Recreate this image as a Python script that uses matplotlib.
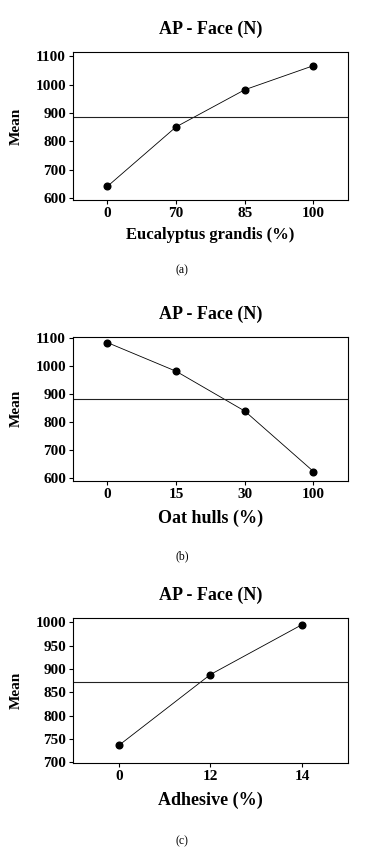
import matplotlib
matplotlib.use('Agg')
import matplotlib.pyplot as plt

plt.rcParams['font.family'] = 'Liberation Serif'

# dados
eucalipto_niveis = ['0', '70', '85', '100']
eucalipto_medias = [641, 851, 982, 1067]
eucalipto_media_geral = 885

aveia_niveis = ['0', '15', '30', '100']
aveia_medias = [1085, 982, 839, 622]
aveia_media_geral = 882

adesivo_niveis = ['0', '12', '14']
adesivo_medias = [736, 888, 995]
adesivo_media_geral = 873

titulo = 'AP - Face (N)'

fig = plt.figure(figsize=(3.65, 8.49), dpi=100)


def painel(pos, niveis, medias, media_geral, xlabel, yticks, ylim, xlabel_tam, xlabel_y):
    ax = fig.add_axes(pos)
    x = list(range(len(niveis)))
    ax.plot(x, medias, color='black', linewidth=0.6, marker='o', markersize=4.8)
    ax.axhline(media_geral, color='#222222', linewidth=0.8)
    ax.set_xlim(-0.5, len(niveis) - 0.5)
    ax.set_ylim(*ylim)
    ax.set_xticks(x)
    ax.set_xticklabels(niveis)
    ax.set_yticks(yticks)
    ax.tick_params(direction='out', length=3, width=0.8, labelsize=11, pad=2)
    for lab in ax.get_xticklabels() + ax.get_yticklabels():
        lab.set_fontweight('bold')
    for s in ax.spines.values():
        s.set_linewidth(0.8)
    ax.set_title(titulo, fontsize=13, fontweight='bold', pad=13)
    ax.set_xlabel(xlabel, fontsize=xlabel_tam, fontweight='bold')
    ax.xaxis.set_label_coords(0.5, xlabel_y)
    ax.set_ylabel('Mean', fontsize=11, fontweight='bold')
    ax.yaxis.set_label_coords(-0.183, 0.5)
    return ax


painel([0.2, 0.7644, 0.753, 0.1743], eucalipto_niveis, eucalipto_medias, eucalipto_media_geral,
       'Eucalyptus grandis (%)', [600, 700, 800, 900, 1000, 1100], (593, 1115), 12, -0.18)
painel([0.2, 0.4338, 0.753, 0.1696], aveia_niveis, aveia_medias, aveia_media_geral,
       'Oat hulls (%)', [600, 700, 800, 900, 1000, 1100], (589, 1106), 13, -0.2)
painel([0.2, 0.1017, 0.753, 0.1708], adesivo_niveis, adesivo_medias, adesivo_media_geral,
       'Adhesive (%)', [700, 750, 800, 850, 900, 950, 1000], (699, 1010), 13, -0.2)

fig.text(182 / 365, 1 - 270 / 849, '(a)', ha='center', va='center', fontsize=8.5)
fig.text(182 / 365, 1 - 556.7 / 849, '(b)', ha='center', va='center', fontsize=8.5)
fig.text(182 / 365, 1 - 841 / 849, '(c)', ha='center', va='center', fontsize=8.5)

fig.savefig('out.png', dpi=100)
